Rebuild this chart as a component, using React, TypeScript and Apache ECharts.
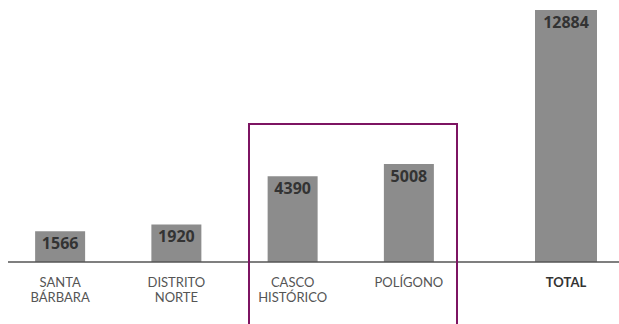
import React, { useEffect, useRef } from "react";
import * as echarts from "echarts";

const districts = ["SANTA\nBÁRBARA", "DISTRITO\nNORTE", "CASCO\nHISTÓRICO", "POLÍGONO"];
const districtValues = [1566, 1920, 4390, 5008];
const totalCategory = ["TOTAL"];
const totalValues = [12884];
const yMax = 12884;

export default function App() {
  const ref = useRef<HTMLDivElement>(null);
  useEffect(() => {
    if (!ref.current) return;
    const chart = echarts.init(ref.current, null, { renderer: "svg" });
    const labelStyle = {
      show: true,
      position: "insideTop" as const,
      distance: 4,
      color: "#333333",
      fontFamily: "Open Sans",
      fontWeight: "bold" as const,
      fontSize: 16,
    };
    const axisLabelBase = {
      color: "#555555",
      fontFamily: "Lato",
      fontSize: 13,
      lineHeight: 15.6,
      margin: 12,
      interval: 0,
    };
    chart.setOption({
      animation: false,
      grid: [
        { left: 2, width: 465, top: 10, bottom: 62 },
        { left: 516, width: 100, top: 10, bottom: 62 },
      ],
      xAxis: [
        {
          type: "category",
          gridIndex: 0,
          data: districts,
          axisLine: { show: false },
          axisTick: { show: false },
          axisLabel: axisLabelBase,
        },
        {
          type: "category",
          gridIndex: 1,
          data: totalCategory,
          axisLine: { show: false },
          axisTick: { show: false },
          axisLabel: { ...axisLabelBase, color: "#333333", fontWeight: "bold" },
        },
      ],
      yAxis: [
        { type: "value", gridIndex: 0, min: 0, max: yMax, show: false },
        { type: "value", gridIndex: 1, min: 0, max: yMax, show: false },
      ],
      series: [
        {
          type: "bar",
          xAxisIndex: 0,
          yAxisIndex: 0,
          data: districtValues,
          barWidth: 50,
          itemStyle: { color: "#8c8c8c" },
          label: labelStyle,
        },
        {
          type: "bar",
          xAxisIndex: 1,
          yAxisIndex: 1,
          data: totalValues,
          barWidth: 62,
          itemStyle: { color: "#8c8c8c" },
          label: labelStyle,
        },
      ],
      graphic: [
        {
          type: "line",
          shape: { x1: 8, y1: 262, x2: 619, y2: 262 },
          style: { stroke: "#555555", lineWidth: 1.5 },
          z: 10,
        },
        {
          type: "rect",
          shape: { x: 249, y: 124, width: 208, height: 210 },
          style: { fill: "none", stroke: "#7d1462", lineWidth: 2 },
          z: 10,
        },
      ],
    });
    return () => chart.dispose();
  }, []);
  return (
    <div
      ref={ref}
      style={{ position: "absolute", left: 0, top: 0, width: 619, height: 324, background: "#ffffff" }}
    />
  );
}
